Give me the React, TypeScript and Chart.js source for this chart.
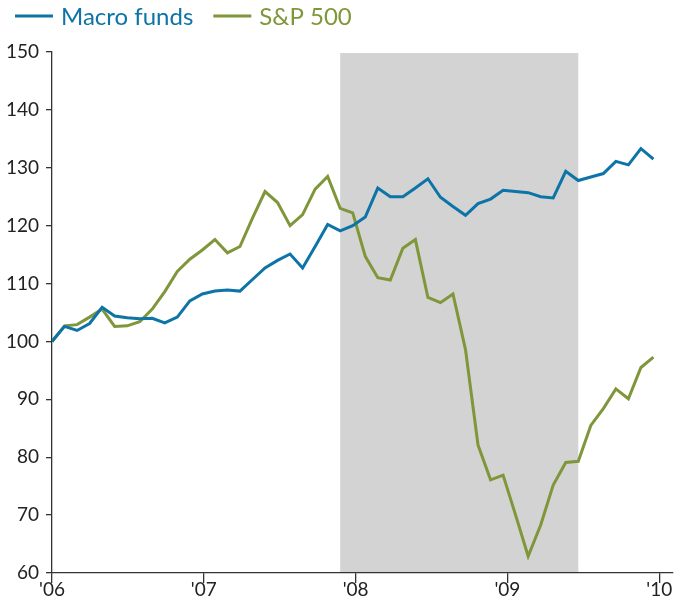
import React, { useEffect, useRef } from "react";
import { Chart, registerables } from "chart.js";

Chart.register(...registerables);

// Monthly index values, Dec 2005 = 100 (49 points)
const macroFunds = [
  100.0, 102.6, 101.9, 103.1, 105.9, 104.4, 104.1, 103.9, 104.0, 103.2,
  104.2, 107.0, 108.2, 108.7, 108.9, 108.7, 110.7, 112.7, 114.0, 115.1,
  112.7, 116.4, 120.2, 119.1, 120.0, 121.5, 126.5, 125.0, 125.0, 126.5,
  128.1, 124.9, 123.3, 121.8, 123.8, 124.6, 126.1, 125.9, 125.7, 125.0,
  124.8, 129.4, 127.8, 128.4, 129.0, 131.1, 130.5, 133.3, 131.5,
];
const sp500 = [
  100.0, 102.7, 102.9, 104.2, 105.6, 102.6, 102.7, 103.4, 105.6, 108.6,
  112.1, 114.2, 115.8, 117.6, 115.3, 116.4, 121.3, 125.9, 124.0, 120.0,
  121.9, 126.3, 128.5, 123.0, 122.2, 114.7, 111.0, 110.6, 116.1, 117.6,
  107.6, 106.7, 108.2, 98.6, 82.1, 76.1, 76.9, 70.0, 62.9, 68.3,
  75.2, 79.1, 79.3, 85.5, 88.4, 91.8, 90.1, 95.5, 97.3,
];
const seriesNames = ["Macro funds", "S&P 500"];
const seriesColors = ["#0C74A6", "#7F963A"];
const xTickLabels = ["'06", "'07", "'08", "'09", "'10"];
const xTickPositions = [0, 12.11, 24.23, 36.34, 48.46];
const yTicks = [60, 70, 80, 90, 100, 110, 120, 130, 140, 150];
const recession = [23, 42];

const FONT = "Lato, 'DejaVu Sans', sans-serif";

const shadePlugin = {
  id: "shade",
  beforeDraw(chart: any) {
    const { ctx, chartArea, scales } = chart;
    const x0 = scales.x.getPixelForValue(recession[0]);
    const x1 = scales.x.getPixelForValue(recession[1]);
    const top = scales.y.getPixelForValue(150);
    ctx.save();
    ctx.fillStyle = "#D3D3D3";
    ctx.fillRect(x0, top + 1, x1 - x0, chartArea.bottom - top - 1);
    ctx.restore();
  },
};

const legendPlugin = {
  id: "customLegend",
  afterDraw(chart: any) {
    const { ctx } = chart;
    ctx.save();
    ctx.font = `24px ${FONT}`;
    ctx.textBaseline = "alphabetic";
    let x = 15;
    seriesNames.forEach((name, i) => {
      ctx.strokeStyle = seriesColors[i];
      ctx.lineWidth = 3;
      ctx.beginPath();
      ctx.moveTo(x, 16);
      ctx.lineTo(x + 38, 16);
      ctx.stroke();
      ctx.fillStyle = seriesColors[i];
      ctx.fillText(name, x + 46, 25);
      x += 46 + ctx.measureText(name).width + 20;
    });
    ctx.restore();
  },
};

export default function App() {
  const ref = useRef<HTMLCanvasElement>(null);
  useEffect(() => {
    if (!ref.current) return;
    const chart = new Chart(ref.current, {
      type: "line",
      data: {
        datasets: [macroFunds, sp500].map((vals, i) => ({
          label: seriesNames[i],
          data: vals.map((v, j) => ({ x: j, y: v })),
          borderColor: seriesColors[i],
          backgroundColor: seriesColors[i],
          borderWidth: 3,
          pointRadius: 0,
          tension: 0,
        })),
      },
      options: {
        animation: false,
        responsive: false,
        maintainAspectRatio: false,
        layout: { padding: { top: 52, right: 12, left: 0, bottom: 0 } },
        plugins: { legend: { display: false }, tooltip: { enabled: false } },
        scales: {
          x: {
            type: "linear",
            min: 0,
            max: 49.56,
            afterBuildTicks: (scale: any) => {
              scale.ticks = xTickPositions.map((v) => ({ value: v }));
            },
            afterFit: (scale: any) => {
              scale.height = 36;
            },
            ticks: {
              callback: (_v: any, i: number) => xTickLabels[i],
              font: { family: FONT, size: 19 },
              color: "#222",
              padding: -5,
              maxRotation: 0,
              autoSkip: false,
            },
            grid: { drawOnChartArea: false, drawTicks: true, tickLength: 10, color: "#333", lineWidth: 1.3 },
            border: { display: true, color: "#333", width: 1.3 },
          },
          y: {
            min: 60,
            max: 150,
            afterBuildTicks: (scale: any) => {
              scale.ticks = yTicks.map((v) => ({ value: v }));
            },
            afterFit: (scale: any) => {
              scale.width = 52;
            },
            ticks: {
              font: { family: FONT, size: 19 },
              color: "#222",
              padding: 7,
            },
            grid: { drawOnChartArea: false, drawTicks: true, tickLength: 6, color: "#333", lineWidth: 1.3 },
            border: { display: true, color: "#333", width: 1.3 },
          },
        },
      },
      plugins: [shadePlugin, legendPlugin],
    });
    return () => chart.destroy();
  }, []);
  return (
    <div style={{ position: "absolute", left: 0, top: 0, width: 685, height: 609, background: "#fff" }}>
      <canvas ref={ref} width={685} height={609} style={{ width: 685, height: 609, display: "block" }} />
    </div>
  );
}
